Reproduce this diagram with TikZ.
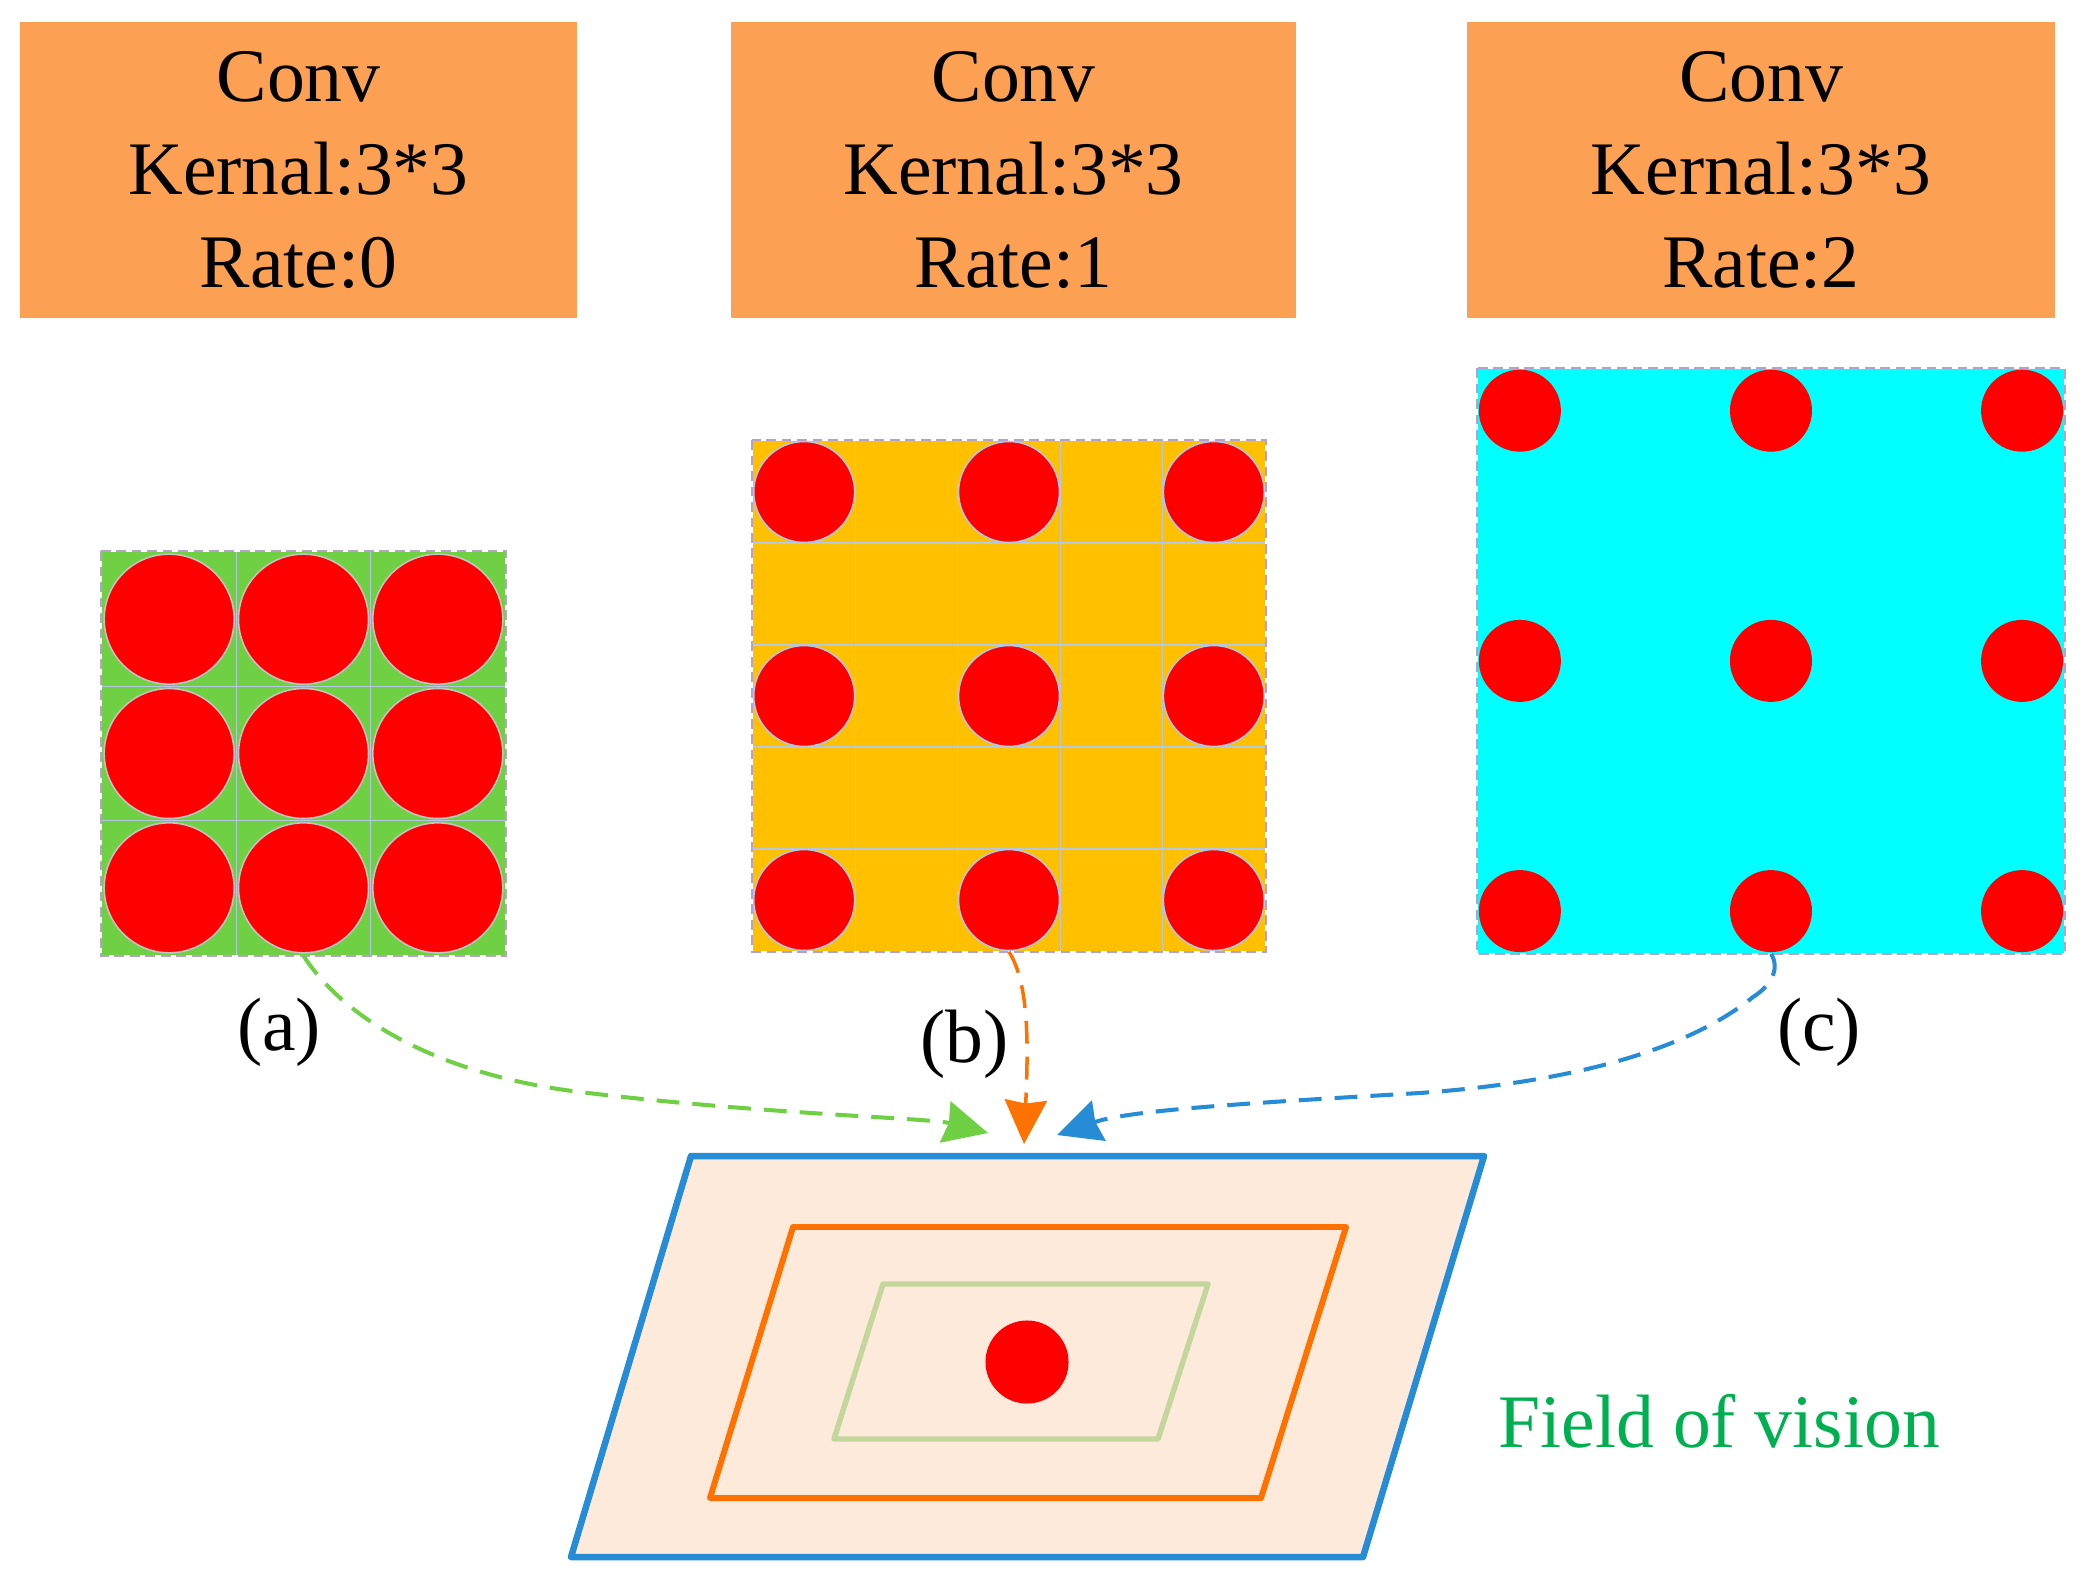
\documentclass[tikz,border=0pt]{standalone}
\usepackage{fontspec}
\setmainfont{Liberation Serif}
\usetikzlibrary{arrows.meta}
\definecolor{boxorange}{RGB}{252,160,84}
\definecolor{gridgreen}{RGB}{112,208,68}
\definecolor{gridyellow}{RGB}{255,192,0}
\definecolor{gridcyan}{RGB}{0,255,255}
\definecolor{dotred}{RGB}{255,0,0}
\definecolor{borderpurple}{RGB}{182,160,204}
\definecolor{cellline}{RGB}{180,200,224}
\definecolor{circgray}{RGB}{195,195,195}
\definecolor{circblue}{RGB}{176,200,224}
\definecolor{paperfill}{RGB}{253,234,218}
\definecolor{lineblue}{RGB}{38,140,214}
\definecolor{lineorange}{RGB}{255,114,0}
\definecolor{linegreen}{RGB}{195,214,155}
\definecolor{textgreen}{RGB}{0,176,80}
\begin{document}
\begin{tikzpicture}[x=0.01cm,y=-0.01cm,
  bigfont/.style={font=\fontsize{21.5}{26.5}\selectfont},
  convbox/.style={bigfont, fill=boxorange, draw=none, align=center, inner sep=0pt,
    minimum height=2.96cm},
  gridnode/.style={draw=none, inner sep=0pt},
  gridborder/.style={draw=borderpurple, line width=0.6pt, dash pattern=on 2.8pt off 1.6pt},
  gridline/.style={draw=cellline, line width=0.35pt},
  lbl/.style={bigfont, anchor=base, inner sep=0pt},
  dasharrow/.style={line width=1.15pt, dash pattern=on 6.5pt off 3.7pt,
    -{Stealth[length=12.5pt, width=12pt, inset=1pt]}},
  para/.style={line join=round}
]
\useasboundingbox (0,0) rectangle (2086,1580);

% ---- top boxes ----
\node[convbox, minimum width=5.57cm] (box1) at (298.5,170) {Conv\\Kernal:3*3\\Rate:0};
\node[convbox, minimum width=5.65cm] (box2) at (1013.5,170) {Conv\\Kernal:3*3\\Rate:1};
\node[convbox, minimum width=5.88cm] (box3) at (1761,170) {Conv\\Kernal:3*3\\Rate:2};

% ---- grid (a) ----
\node[gridnode, fill=gridgreen, minimum width=4.03cm, minimum height=4.03cm] (gridA) at (303.5,753.5) {};
\foreach \i in {1,2} {
  \draw[gridline] (102+134.33*\i,552) -- ++(0,403);
  \draw[gridline] (102,552+134.33*\i) -- ++(403,0);
}
\foreach \i in {0,1,2} \foreach \j in {0,1,2}
  \filldraw[fill=dotred, draw=circgray, line width=0.45pt] (169.17+134.33*\i, 619.17+134.33*\j) circle[radius=65];
\draw[gridborder] (gridA.north west) rectangle (gridA.south east);

% ---- grid (b) ----
\node[gridnode, fill=gridyellow, minimum width=5.12cm, minimum height=5.10cm] (gridB) at (1009,696) {};
\foreach \i in {1,2,3,4} {
  \draw[gridline] (753+102.4*\i,441) -- ++(0,510);
  \draw[gridline] (753,441+102*\i) -- ++(512,0);
}
\foreach \i in {0,2,4} \foreach \j in {0,2,4}
  \filldraw[fill=dotred, draw=circblue, line width=0.45pt] (804.2+102.4*\i, 492+102*\j) circle[radius=50.5];
\draw[gridborder] (gridB.north west) rectangle (gridB.south east);

% ---- grid (c) ----
\node[gridnode, fill=gridcyan, minimum width=5.86cm, minimum height=5.84cm] (gridC) at (1771,661) {};
\foreach \i in {0,3,6} \foreach \j in {0,3,6}
  \fill[dotred] (1519.85+83.7*\i, 410.7+83.4*\j) circle[radius=41];
\draw[gridborder] (gridC.north west) rectangle (gridC.south east);

% ---- labels ----
\node[lbl] (la) at (279,1050) {(a)};
\node[lbl] (lb) at (964.5,1062) {(b)};
\node[lbl] (lc) at (1819,1050) {(c)};

% ---- field of vision ----
\filldraw[para, fill=paperfill, draw=lineblue, line width=1.85pt]
  (691,1156) -- (1484,1156) -- (1363,1557) -- (571,1557) -- cycle;
\draw[para, draw=lineorange, line width=1.7pt]
  (793,1227) -- (1346,1227) -- (1261,1498) -- (710,1498) -- cycle;
\draw[para, draw=linegreen, line width=1.55pt]
  (883,1284) -- (1208,1284) -- (1158,1439) -- (834,1439) -- cycle;
\node[circle, fill=dotred, inner sep=0pt, minimum size=0.83cm] (dot) at (1027,1362) {};
\node[bigfont, text=textgreen, anchor=base west, inner sep=0pt] (fov) at (1498,1447) {Field of vision};

% ---- connectors ----
\coordinate (tipA) at (988,1133);
\coordinate (tipB) at (1024,1144);
\coordinate (tipC) at (1057,1135);
\draw[dasharrow, gridgreen] (gridA.south) .. controls (345,1020) and (440,1075) .. (580,1092)
  .. controls (760,1114) and (930,1118) .. (tipA);
\draw[dasharrow, lineorange, line width=1pt] (gridB.south) .. controls (1030,985) and (1028,1050) .. (tipB);
\draw[dasharrow, lineblue] (gridC.south) .. controls (1780,968) and (1772,985) .. (1753,997)
  .. controls (1700,1040) and (1600,1080) .. (1420,1093)
  .. controls (1250,1103) and (1130,1110) .. (tipC);
\end{tikzpicture}
\end{document}
